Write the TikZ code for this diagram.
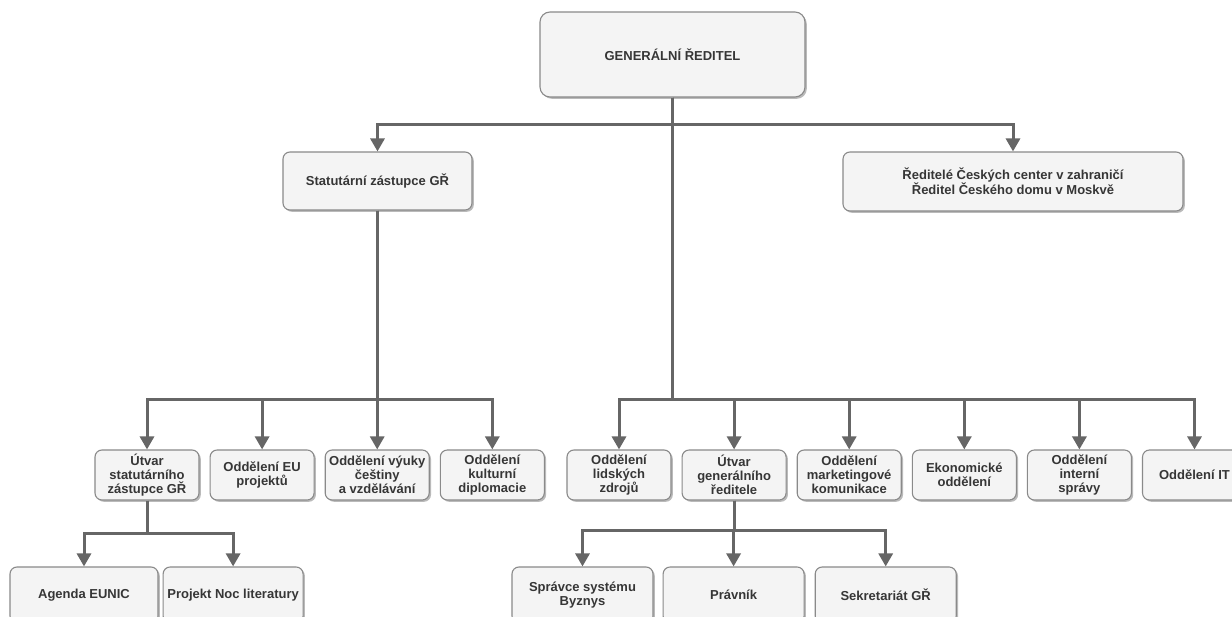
\documentclass[tikz,border=0pt]{standalone}
\usepackage{fontspec}
\setmainfont{Liberation Sans}
\usetikzlibrary{arrows.meta,positioning,shadows}

\definecolor{boxfill}{HTML}{F4F4F4}
\definecolor{boxline}{HTML}{8A8A8A}
\definecolor{linkcol}{HTML}{666666}
\definecolor{txtcol}{HTML}{363636}

\begin{document}
\begin{tikzpicture}[
  x=1pt, y=-1pt,
  node distance=10pt,
  unit/.style={rectangle, rounded corners=7pt, draw=boxline, line width=1.1pt, fill=boxfill,
    drop shadow={shadow xshift=1.8pt, shadow yshift=-1.8pt, opacity=0.45, fill=black!60},
    align=center, inner sep=2pt, text=txtcol,
    font=\fontsize{13}{13.8}\selectfont\bfseries},
  dept/.style={unit, minimum width=104pt, minimum height=50pt},
  leaf/.style={unit, minimum height=56pt},
  link/.style={draw=linkcol, line width=3pt, -{Triangle[width=14pt,length=13pt]}},
]
  \clip (0,0) rectangle (1232,617);
  \fill[white] (0,0) rectangle (1232,617);

  % top levels
  \node[unit, minimum width=265pt, minimum height=85pt, rounded corners=10pt] (gr) at (672.5,54.5) {GENERÁLNÍ ŘEDITEL};
  \node[unit, minimum width=189pt, minimum height=58pt] (sz) at (377.5,181) {Statutární zástupce GŘ};
  \node[unit, minimum width=340pt, minimum height=59pt] (rd) at (1013,181.5) {Ředitelé Českých center v zahraničí\\Ředitel Českého domu v Moskvě};

  % departments under the deputy
  \node[dept] (us) at (147,475) {Útvar\\statutárního\\zástupce GŘ};
  \node[dept, right=of us] (eu) {Oddělení EU\\projektů};
  \node[dept, right=of eu] (vy) {Oddělení výuky\\češtiny\\a vzdělávání};
  \node[dept, right=of vy] (kd) {Oddělení\\kulturní\\diplomacie};

  % departments under the director
  \node[dept] (lz) at (619,475) {Oddělení\\lidských\\zdrojů};
  \node[dept, right=of lz] (ug) {Útvar\\generálního\\ředitele};
  \node[dept, right=of ug] (mk) {Oddělení\\marketingové\\komunikace};
  \node[dept, right=of mk] (ek) {Ekonomické\\oddělení};
  \node[dept, right=of ek] (is) {Oddělení\\interní\\správy};
  \node[dept, right=of is] (it) {Oddělení IT};

  % bottom row
  \node[leaf, minimum width=148pt] (en) at (84,595) {Agenda EUNIC};
  \node[leaf, minimum width=140pt, right=4pt of en] (nl) {Projekt Noc literatury};
  \node[leaf, minimum width=141pt] (sp) at (582.5,595) {Správce systému\\Byznys};
  \node[leaf, minimum width=141pt, right=9pt of sp] (pr) {Právník};
  \node[leaf, minimum width=141pt, right=10pt of pr] (sk) {Sekretariát GŘ};

  \coordinate (b1) at (0,125);
  \coordinate (b2) at (0,400);
  \coordinate (b3) at (0,533);
  \coordinate (b4) at (0,530);

  \draw[link] (gr.south) -- (gr.south |- b1) -| (sz.north);
  \draw[link] (gr.south) -- (gr.south |- b1) -| (rd.north);
  \foreach \n in {us,eu,vy,kd}
    \draw[link] (sz.south) -- (sz.south |- b2) -| (\n.north);
  \foreach \n in {lz,ug,mk,ek,is,it}
    \draw[link] (gr.south) -- (gr.south |- b2) -| (\n.north);
  \foreach \n in {en,nl}
    \draw[link] (us.south) -- (us.south |- b3) -| (\n.north);
  \foreach \n in {sp,pr,sk}
    \draw[link] (ug.south) -- (ug.south |- b4) -| (\n.north);
\end{tikzpicture}
\end{document}
